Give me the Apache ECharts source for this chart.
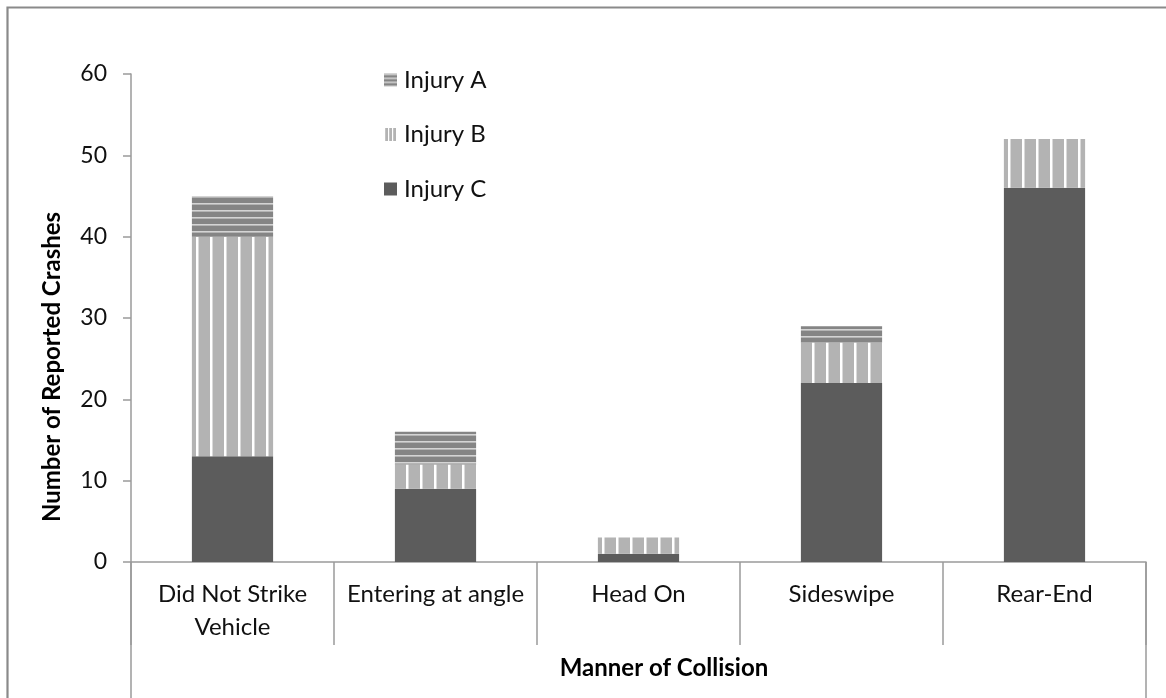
<!DOCTYPE html>
<html>
<head>
<meta charset="utf-8">
<script src="https://cdn.jsdelivr.net/npm/echarts@6/dist/echarts.min.js"></script>
<style>
  html, body { margin: 0; padding: 0; background: #fff; }
  #chart { width: 1166px; height: 698px; }
</style>
</head>
<body>
<div id="chart"></div>
<script>
// Crash counts by manner of collision, split by injury severity
const categories = ['Did Not Strike\nVehicle', 'Entering at angle', 'Head On', 'Sideswipe', 'Rear-End'];
const injuryC = [13, 9, 1, 22, 46];
const injuryB = [27, 3, 2, 5, 6];
const injuryA = [5, 4, 0, 2, 0];
const yMin = 0, yMax = 60, yStep = 10;

const FONT = 'Lato, "Open Sans", sans-serif';
const AXIS_GRAY = '#9a9a9a';
const TEXT = '#111111';

// Horizontal-band fill for Injury A
function hBands(period) {
  const c = document.createElement('canvas');
  c.width = 8; c.height = period;
  const g = c.getContext('2d');
  g.fillStyle = '#858585'; g.fillRect(0, 0, 8, period);
  g.fillStyle = '#d4d4d4'; g.fillRect(0, 0, 8, 1.6);
  return c;
}
// Vertical white stripes on light gray for Injury B
function vStripes(period, white) {
  const c = document.createElement('canvas');
  c.width = period; c.height = 8;
  const g = c.getContext('2d');
  g.fillStyle = '#b3b3b3'; g.fillRect(0, 0, period, 8);
  g.fillStyle = '#ffffff'; g.fillRect(0, 0, white, 8);
  return c;
}

const fillA = { image: hBands(7), repeat: 'repeat' };
const fillB = { image: vStripes(14, 2.5), repeat: 'repeat' };
const fillC = '#5c5c5c';
// finer versions for the small legend swatches
const iconA = { image: hBands(4), repeat: 'repeat' };
const iconB = { image: vStripes(4, 1.2), repeat: 'repeat' };

const chart = echarts.init(document.getElementById('chart'), null, { renderer: 'canvas' });

const GRID = { left: 131, top: 74, right: 20, bottom: 136 };

chart.setOption({
  animation: false,
  backgroundColor: '#ffffff',
  textStyle: { fontFamily: FONT },
  grid: GRID,
  legend: {
    orient: 'vertical',
    left: 379,
    top: 63,
    itemGap: 30.5,
    itemWidth: 13,
    itemHeight: 13,
    icon: 'rect',
    data: [
      { name: 'Injury A', itemStyle: { color: iconA } },
      { name: 'Injury B', itemStyle: { color: iconB } },
      { name: 'Injury C' }
    ],
    textStyle: { fontFamily: FONT, fontSize: 24, color: TEXT, padding: [0, 0, 0, 2] }
  },
  xAxis: {
    type: 'category',
    data: categories,
    boundaryGap: true,
    axisLine: { lineStyle: { color: AXIS_GRAY, width: 1.5 } },
    axisTick: { show: true, interval: 0, length: 83, lineStyle: { color: AXIS_GRAY, width: 1.5 } },
    axisLabel: {
      interval: 0, margin: 16, fontFamily: FONT, fontSize: 24, color: TEXT,
      lineHeight: 33, verticalAlign: 'top'
    }
  },
  yAxis: {
    type: 'value',
    min: yMin, max: yMax, interval: yStep,
    splitLine: { show: false },
    axisLine: { show: true, lineStyle: { color: AXIS_GRAY, width: 1.5 } },
    axisTick: { show: true, length: 8, lineStyle: { color: AXIS_GRAY, width: 1.5 } },
    axisLabel: { margin: 24, fontFamily: FONT, fontSize: 23, color: TEXT }
  },
  series: [
    { name: 'Injury C', type: 'bar', stack: 'total', barWidth: '40%', data: injuryC, itemStyle: { color: fillC } },
    { name: 'Injury B', type: 'bar', stack: 'total', barWidth: '40%', data: injuryB, itemStyle: { color: fillB } },
    { name: 'Injury A', type: 'bar', stack: 'total', barWidth: '40%', data: injuryA, itemStyle: { color: fillA } }
  ],
  graphic: [
    // chart-area frame
    { type: 'rect', left: 5, top: 5, silent: true,
      shape: { x: 0, y: 0, width: 1400, height: 900 },
      style: { fill: 'none', stroke: '#8a8a8a', lineWidth: 2.2 } },
    // outer dividers of the category block run down past the axis title
    { type: 'line', silent: true,
      shape: { x1: GRID.left, y1: 698 - GRID.bottom, x2: GRID.left, y2: 700 },
      style: { stroke: AXIS_GRAY, lineWidth: 1.5 } },
    { type: 'line', silent: true,
      shape: { x1: 1166 - GRID.right, y1: 698 - GRID.bottom, x2: 1166 - GRID.right, y2: 700 },
      style: { stroke: AXIS_GRAY, lineWidth: 1.5 } },
    // value-axis title
    { type: 'text', silent: true, x: 52, y: 367, rotation: Math.PI / 2,
      style: { text: 'Number of Reported Crashes', font: 'bold 24px ' + FONT, fill: '#000',
               align: 'center', verticalAlign: 'middle' } },
    // category-axis title
    { type: 'text', silent: true, x: 664, y: 668,
      style: { text: 'Manner of Collision', font: 'bold 24px ' + FONT, fill: '#000',
               align: 'center', verticalAlign: 'middle' } }
  ]
});
</script>
</body>
</html>
